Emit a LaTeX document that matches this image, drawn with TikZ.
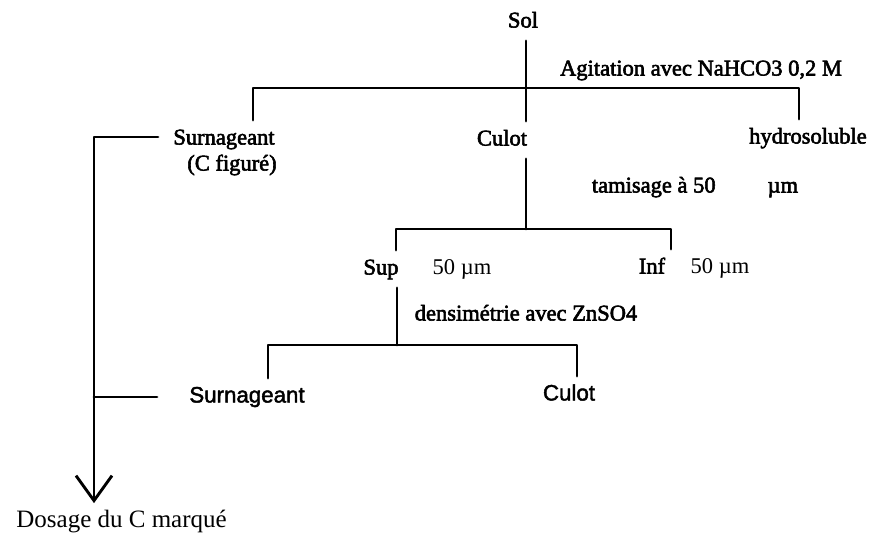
\documentclass[tikz,border=0pt]{standalone}
\usepackage{fontspec}
\setmainfont{Liberation Serif}
\setsansfont{Liberation Sans}
\newfontfamily\scanserif{Liberation Serif}[FakeBold=2.5]
\newfontfamily\scansans{Liberation Sans}[FakeBold=2]
\usetikzlibrary{arrows.meta}
\tikzset{
 branch/.style={line width=1.45pt},
 lbl/.style={inner sep=4pt,text height=8pt,text depth=2.5pt,
  font=\scanserif\fontsize{11.25pt}{13pt}\selectfont},
 thinlbl/.style={lbl,font=\rmfamily\fontsize{11.25pt}{13pt}\selectfont},
 sanslbl/.style={lbl,font=\scansans\fontsize{11.15pt}{13pt}\selectfont}
}

\begin{document}
\begin{tikzpicture}[>=Stealth,line cap=round,line join=round,
 x=0.5pt,y=-0.5pt]
 \useasboundingbox (0,0) rectangle (869,536);
 \coordinate (s1) at (526,88);
 \coordinate (s1l) at (253,88);
 \coordinate (s1r) at (799,88);
 \coordinate (s2) at (526,229);
 \coordinate (s2l) at (396,229);
 \coordinate (s2r) at (671,229);
 \coordinate (s3) at (397,345);
 \coordinate (s3l) at (268,345);
 \coordinate (s3r) at (577,345);
 \coordinate (dose) at (94,137);
 \node[lbl] (sol) at (523,22) {Sol};
 \node[lbl] (agit) at (701,70) {Agitation avec NaHCO3 0,2 M};
 \node[lbl] (surn1) at (224,139) {Surnageant};
 \node[lbl] (fig) at (232,165) {(C figuré)};
 \node[lbl] (culot1) at (502,140) {Culot};
 \node[lbl] (hydro) at (808,138) {hydrosoluble};
 \node[lbl] (tamis) at (695,187) {tamisage à 50\hspace{26pt}µm};
 \node[lbl] (sup) at (381,269) {Sup};
 \node[thinlbl] (supsize) at (462,269) {50 µm};
 \node[lbl] (inf) at (652,268) {Inf};
 \node[thinlbl] (infsize) at (720,268) {50 µm};
 \node[lbl] (densi) at (526,315) {densimétrie avec ZnSO4};
 \node[sanslbl] (surn2) at (247,397) {Surnageant};
 \node[sanslbl] (culot2) at (569,395) {Culot};
 \node[thinlbl,font=\rmfamily\fontsize{12.5pt}{15pt}\selectfont,anchor=west]
  (dosage) at (8,522) {Dosage du C marqué};
 \draw[branch] (sol.south -| s1) -- (culot1.north -| s1);
 \draw[branch] (surn1.north -| s1l) -- (s1l) -- (s1r) -- (hydro.north -| s1r);
 \draw[branch] (culot1.south -| s2) -- (s2);
 \draw[branch] (sup.north -| s2l) -- (s2l) -- (s2r) -- (inf.north -| s2r);
 \draw[branch] (sup.south -| s3) -- (s3);
 \draw[branch] (surn2.north -| s3l) -- (s3l) -- (s3r) -- (culot2.north -| s3r);
 \draw[branch,-{Straight Barb[length=12.5pt,width=18pt]}]
  ([xshift=-3.5pt]surn1.west |- dose) -- (dose) -- (dosage.north -| dose);
 \draw[branch] ([xshift=-12pt]surn2.west) -- (surn2.west -| dose);
\end{tikzpicture}
\end{document}
